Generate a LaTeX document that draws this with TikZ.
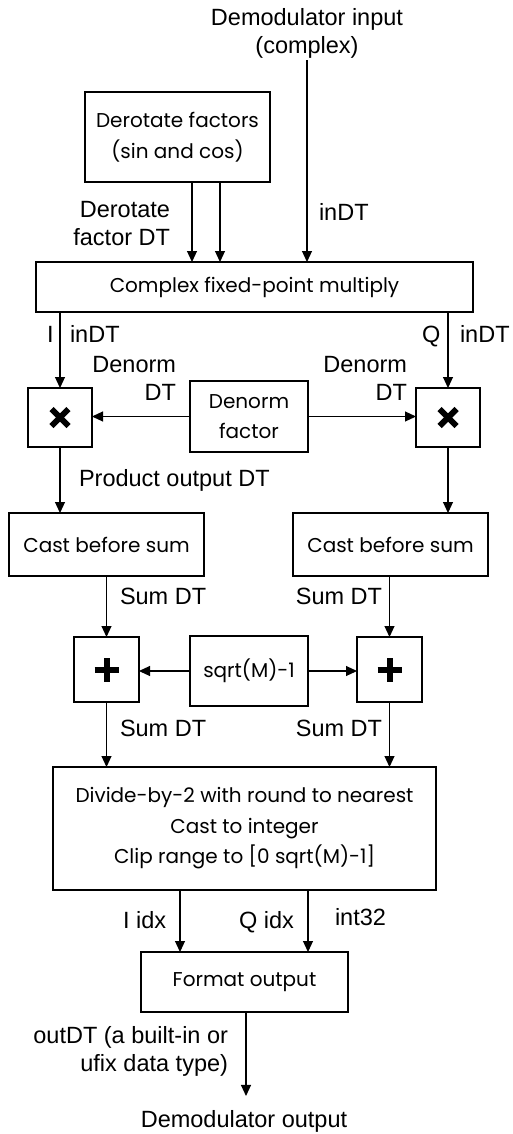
\documentclass[tikz,border=0pt]{standalone}
\usepackage{fontspec}
\setmainfont{Liberation Sans}
\newfontfamily\boxfont{Poppins}
\usetikzlibrary{arrows.meta}
\begin{document}
\begin{tikzpicture}[x=1pt,y=-1pt,
  blk/.style={draw, line width=1.8pt, inner sep=0pt, outer sep=0pt, align=center,
    font=\boxfont\fontsize{20}{30.5}\selectfont},
  lbl/.style={inner sep=0pt, outer sep=0pt, font=\fontsize{23.5}{28.5}\selectfont},
  arr/.style={line width=1.1pt, -{Triangle[length=11pt,width=10pt]}},
  sym/.style={line width=6pt},
]
\useasboundingbox (0,0) rectangle (512,1134);

% input / output texts
\node[lbl, align=center, anchor=north] (in) at (307,8) {Demodulator input\\(complex)};
\node[lbl, anchor=base] (out) at (244,1127) {Demodulator output};
\coordinate (outtip) at ([yshift=14pt]out.north);

% blocks
\node[blk, minimum width=185pt, minimum height=90pt] (derot) at (177.5,137) {Derotate factors\\(sin and cos)};
\node[blk, minimum width=437pt, minimum height=50pt] (cmul) at (254.5,287) {Complex fixed-point multiply};
\node[blk, minimum width=64pt, minimum height=59pt] (mulI) at (60,417.5) {};
\node[blk, minimum width=64pt, minimum height=59pt] (mulQ) at (448,417.5) {};
\node[blk, minimum width=118pt, minimum height=71pt] (denorm) at (249,416.5) {Denorm\\factor};
\node[blk, minimum width=195pt, minimum height=63pt] (castI) at (106.5,544.5) {Cast before sum};
\node[blk, minimum width=195pt, minimum height=63pt] (castQ) at (390.5,544.5) {Cast before sum};
\node[blk, minimum width=65pt, minimum height=65pt] (addI) at (106.5,669.5) {};
\node[blk, minimum width=65pt, minimum height=65pt] (addQ) at (389.5,669.5) {};
\node[blk, minimum width=118pt, minimum height=70pt] (sqrtm) at (249,671) {sqrt(M)-1};
\node[blk, minimum width=383pt, minimum height=123pt] (div) at (244.5,828.5) {Divide-by-2 with round to nearest\\Cast to integer\\Clip range to [0 sqrt(M)-1]};
\node[blk, minimum width=207pt, minimum height=60pt] (fmt) at (244.5,982) {Format output};

% operator symbols
\draw[sym] ([shift={(-8.5,-8.5)}]mulI.center) -- ([shift={(8.5,8.5)}]mulI.center);
\draw[sym] ([shift={(-8.5,8.5)}]mulI.center) -- ([shift={(8.5,-8.5)}]mulI.center);
\draw[sym] ([shift={(-8.5,-8.5)}]mulQ.center) -- ([shift={(8.5,8.5)}]mulQ.center);
\draw[sym] ([shift={(-8.5,8.5)}]mulQ.center) -- ([shift={(8.5,-8.5)}]mulQ.center);
\draw[sym] ([xshift=-12pt]addI.center) -- ([xshift=12pt]addI.center);
\draw[sym] ([yshift=-12pt]addI.center) -- ([yshift=12pt]addI.center);
\draw[sym] ([xshift=-12pt]addQ.center) -- ([xshift=12pt]addQ.center);
\draw[sym] ([yshift=-12pt]addQ.center) -- ([yshift=12pt]addQ.center);

% connectors
\draw[arr] ([yshift=-2pt]in.south) -- (in.south |- cmul.north);
\draw[arr] ([xshift=14.5pt]derot.south) -- ([xshift=14.5pt]derot.south |- cmul.north);
\draw[arr] ([xshift=42.5pt]derot.south) -- ([xshift=42.5pt]derot.south |- cmul.north);
\draw[arr] (mulI.north |- cmul.south) -- (mulI.north);
\draw[arr] (mulQ.north |- cmul.south) -- (mulQ.north);
\draw[arr] (denorm.west) -- (denorm.west -| mulI.east);
\draw[arr] (denorm.east) -- (denorm.east -| mulQ.west);
\draw[arr] (mulI.south) -- (mulI.south |- castI.north);
\draw[arr] (mulQ.south) -- (mulQ.south |- castQ.north);
\draw[arr] (castI.south) -- (addI.north);
\draw[arr] (castQ.south -| addQ.north) -- (addQ.north);
\draw[arr] (sqrtm.west) -- (sqrtm.west -| addI.east);
\draw[arr] (sqrtm.east) -- (sqrtm.east -| addQ.west);
\draw[arr] (addI.south) -- (addI.south |- div.north);
\draw[arr] (addQ.south) -- (addQ.south |- div.north);
\draw[arr] ([xshift=-64.5pt]div.south) -- ([xshift=-64.5pt]div.south |- fmt.north);
\draw[arr] ([xshift=63.5pt]div.south) -- ([xshift=63.5pt]div.south |- fmt.north);
\draw[arr] ([xshift=1.5pt]fmt.south) -- ([xshift=1.5pt]fmt.south |- outtip);

% connector labels
\node[lbl, align=right, anchor=north east] (lderot) at (170,201) {Derotate\\factor DT};
\node[lbl, anchor=base west] (linDT) at (319,220) {inDT};
\node[lbl, anchor=base west] (lI) at (47,342) {I};
\node[lbl, anchor=base west] (lIin) at (70,342) {inDT};
\node[lbl, anchor=base west] (lQ) at (422,342) {Q};
\node[lbl, anchor=base west] (lQin) at (460,342) {inDT};
\node[lbl, align=right, anchor=north east] (ldenL) at (176,356) {Denorm\\DT};
\node[lbl, align=right, anchor=north east] (ldenR) at (407,356) {Denorm\\DT};
\node[lbl, anchor=base west] (lprod) at (79,486) {Product output DT};
\node[lbl, anchor=base west] (lsumIa) at (120,604) {Sum DT};
\node[lbl, anchor=base east] (lsumQa) at (382,604) {Sum DT};
\node[lbl, anchor=base west] (lsumIb) at (120,736) {Sum DT};
\node[lbl, anchor=base east] (lsumQb) at (382,736) {Sum DT};
\node[lbl, anchor=base west] (lIidx) at (123,928) {I idx};
\node[lbl, anchor=base west] (lQidx) at (239,928) {Q idx};
\node[lbl, anchor=base west] (lint) at (335,925) {int32};
\node[lbl, align=right, anchor=north east] (lout) at (228,1026) {outDT (a built-in or\\ufix data type)};
\end{tikzpicture}
\end{document}
